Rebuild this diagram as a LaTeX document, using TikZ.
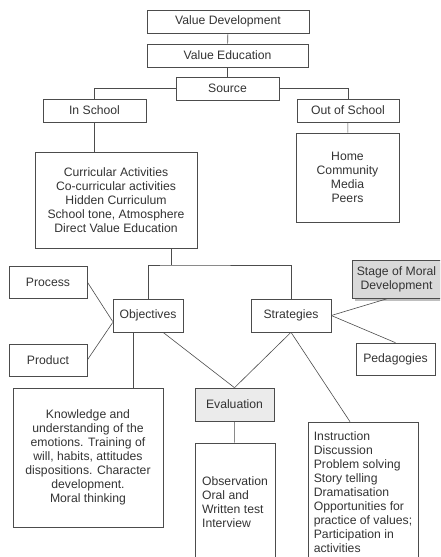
\documentclass[tikz,border=0pt]{standalone}
\usepackage{fontspec}
\setmainfont{Liberation Sans}
\usetikzlibrary{shadows}

\begin{document}
\begin{tikzpicture}[x=1pt, y=-1pt, line width=0.6pt, draw=black!70, every node/.style={rectangle, draw=black!70, inner sep=0pt, text=black!80, font=\fontsize{12.2}{14}\selectfont}]
	\useasboundingbox (0,0) rectangle (440,557);
	\clip (0,0) rectangle (440,557);
	
	\node (vdev) at (228,21.5) [minimum width=162, minimum height=23]{Value Development};
	\node (vedu) at (227.5,55.5) [minimum width=161, minimum height=23]{Value Education};
	\node (src) at (227.5,88.5) [minimum width=103, minimum height=23]{Source};
	\node (insch) at (94.5,110.5) [minimum width=103, minimum height=23]{In School};
	\node (outsch) at (348,110.5) [minimum width=102, minimum height=23]{Out of School};
	\node (home) at (347.5,177.5) [minimum width=103, minimum height=89, align=center]{Home\\Community\\Media\\Peers};
	\node (curr) at (116,200) [minimum width=162, minimum height=96, align=center]{Curricular Activities\\Co-curricular activities\\Hidden Curriculum\\School tone, Atmosphere\\Direct Value Education};
	
	\node (proc) at (48,282) [minimum width=78, minimum height=32]{Process};
	\node (prod) at (48,360) [minimum width=78, minimum height=32]{Product};
	\node (obj) at (148,315.5) [minimum width=70, minimum height=33]{Objectives};
	\node (str) at (291,315.5) [minimum width=80, minimum height=33]{Strategies};
	\node (stage) at (396.5,279) [minimum width=89, minimum height=38, fill=black!15, drop shadow, align=center]{Stage of Moral\\Development};
	\node (ped) at (395.5,359) [minimum width=79, minimum height=32]{Pedagogies};
	
	\node (eval) at (234.5,404.5) [minimum width=79, minimum height=33, fill=black!8]{Evaluation};
	\node (know) at (88,457.5) [minimum width=150, minimum height=139, align=center]{Knowledge and\\understanding of the\\emotions. Training of\\will, habits, attitudes\\dispositions. Character\\development.\\Moral thinking};
	\node (obs) at (235,502) [minimum width=80, minimum height=118, align=left]{Observation\\Oral and\\Written test\\Interview};
	\node (instr) at (363,492.5) [minimum width=110, minimum height=141, align=left]{Instruction\\Discussion\\Problem solving\\Story telling\\Dramatisation\\Opportunities for\\practice of values;\\Participation in\\activities};
	
	\coordinate (split) at (171,265);
	
	\draw (vdev) -- (vedu);
	\draw (vedu) -- (src);
	\draw (src.west) -| (insch.north);
	\draw (src.east) -| (outsch.north);
	\draw (outsch) -- (home);
	\draw (insch.south) -- (insch.south |- curr.north);
	\draw (curr.south -| split) -- (split);
	\draw (obj.north) |- (split) -| (str.north);
	\draw (proc.east) -- ([yshift=-6pt]obj.west);
	\draw (prod.east) -- ([yshift=-7pt]obj.west);
	\draw ([xshift=-8pt]stage.south) -- (str.east);
	\draw (str.east) -- (ped.north);
	\draw ([xshift=15pt]obj.south) -- (eval.north);
	\draw (str.south) -- (eval.north);
	\draw (str.south) -- ([xshift=-13pt]instr.north);
	\draw ([xshift=-15pt]obj.south) -- ([xshift=-15pt]obj.south |- know.north);
	\draw (eval) -- (obs);
	
\end{tikzpicture}
\end{document}
